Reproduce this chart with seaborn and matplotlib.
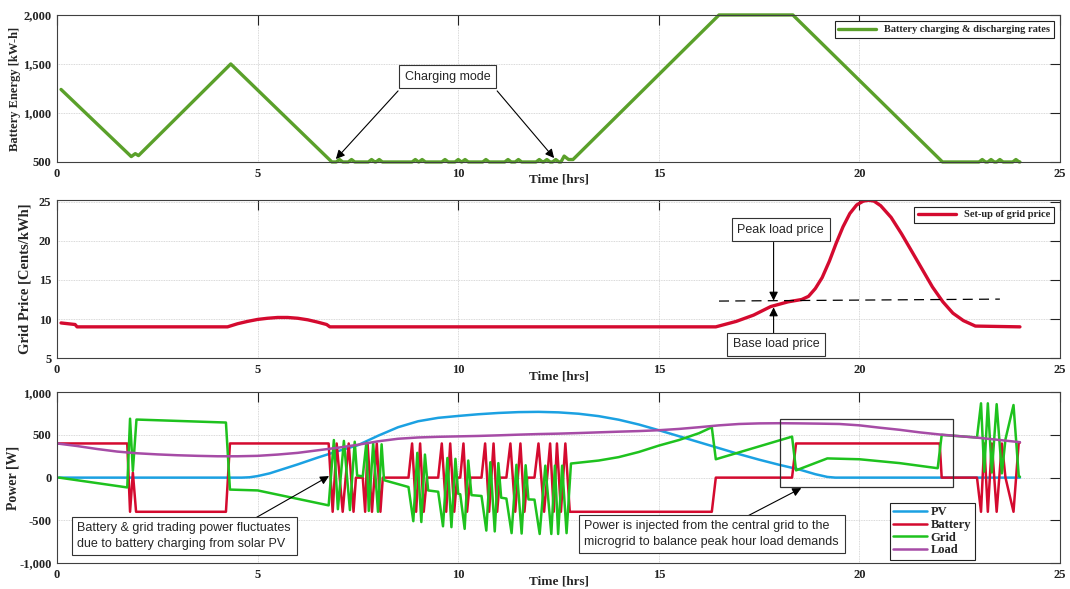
import matplotlib
matplotlib.use("Agg")
import matplotlib.pyplot as plt
import matplotlib.ticker as mticker
from matplotlib.patches import Rectangle
import seaborn as sns
import pandas as pd

# ---------------- data ----------------
# Panel 1: battery energy [kW-h]
energy_t = [0.1, 1.85, 1.95, 2.03, 4.33, 6.85,
            6.96, 7.04, 7.12, 7.26, 7.34, 7.42, 7.76, 7.84, 7.92, 7.95, 8.03, 8.11,
            8.85, 8.93, 9.01, 9.02, 9.10, 9.18, 9.59, 9.67, 9.75, 9.92, 10.0, 10.08,
            10.09, 10.17, 10.25, 10.61, 10.69, 10.77, 11.16, 11.24, 11.32, 11.42, 11.5,
            11.58, 11.94, 12.02, 12.10, 12.13, 12.21, 12.29, 12.35, 12.43, 12.51,
            12.56, 12.64, 12.75, 12.86, 16.5, 18.34, 22.07,
            22.98, 23.06, 23.14, 23.20, 23.28, 23.36, 23.42, 23.5, 23.58, 23.82, 23.9,
            23.98, 24.0]
energy_v = [1240, 555, 585, 565, 1500, 500,
            500, 525, 500, 500, 525, 500, 500, 525, 500, 500, 525, 500,
            500, 525, 500, 500, 525, 500, 500, 525, 500, 500, 525, 500,
            500, 525, 500, 500, 525, 500, 500, 525, 500, 500, 525,
            500, 500, 525, 500, 500, 525, 500, 500, 525, 500,
            500, 560, 525, 525, 2000, 2000, 500,
            500, 525, 500, 500, 525, 500, 500, 525, 500, 500, 525,
            500, 500]

# Panel 2: grid price [Cents/kWh]
price_t = [0.1, 0.45, 0.5, 4.25, 4.5, 4.75, 5.0, 5.25, 5.5, 5.75, 6.0, 6.25,
           6.5, 6.72, 6.8, 16.42, 16.93, 17.36, 17.79, 18.22, 18.56, 18.73, 18.9,
           19.07, 19.25, 19.42, 19.59, 19.76, 19.93, 20.1, 20.23, 20.36, 20.53,
           20.79, 21.05, 21.3, 21.56, 21.82, 22.08, 22.33, 22.59, 22.89, 24.0]
price_v = [9.5, 9.3, 9.0, 9.0, 9.4, 9.7, 9.95, 10.1, 10.2, 10.2, 10.1, 9.9,
           9.6, 9.3, 9.0, 9.0, 9.7, 10.5, 11.6, 12.2, 12.5, 12.9, 13.9,
           15.3, 17.4, 19.7, 21.8, 23.5, 24.6, 25.1, 25.2, 25.1, 24.5,
           23.0, 20.9, 18.7, 16.4, 14.1, 12.2, 10.75, 9.8, 9.1, 9.0]
base_line_t = [16.5, 23.5]
base_line_v = [12.3, 12.55]

# Panel 3: power [W]
pv_t = [0, 4.6, 4.8, 5.0, 5.3, 5.6, 6.0, 6.5, 7.0, 7.5, 8.0, 8.5, 9.0, 9.5,
        10.0, 10.5, 11.0, 11.5, 12.0, 12.5, 13.0, 13.5, 14.0, 14.5, 15.0,
        15.5, 16.0, 16.5, 17.0, 17.5, 18.0, 18.5, 18.9, 19.2, 19.4, 24.0]
pv_v = [0, 0, 4, 18, 50, 95, 155, 235, 310, 380, 490, 590, 660, 700,
        722, 742, 757, 767, 770, 764, 748, 720, 678, 622, 555,
        485, 415, 345, 275, 210, 150, 95, 40, 8, 0, 0]

load_t = [0, 0.5, 1.0, 1.5, 2.0, 2.5, 3.0, 3.5, 4.0, 4.5, 5.0, 5.5, 6.0, 6.5,
          7.0, 7.5, 8.0, 8.5, 9.0, 9.5, 10.0, 10.5, 11.0, 11.5, 12.0, 12.5,
          13.0, 13.5, 14.0, 14.5, 15.0, 15.5, 16.0, 16.5, 17.0, 17.5, 18.0,
          18.5, 19.0, 19.5, 20.0, 20.5, 21.0, 21.5, 22.0, 22.5, 23.0, 23.5, 24.0]
load_v = [400, 370, 335, 305, 285, 272, 262, 255, 250, 250, 255, 270, 290, 320,
          350, 385, 425, 455, 470, 478, 483, 488, 495, 503, 510, 515,
          522, 530, 538, 545, 555, 570, 590, 612, 628, 635, 637,
          635, 632, 628, 612, 585, 560, 530, 505, 485, 465, 440, 415]

battery_t = [0.0, 1.75, 1.82, 1.89, 1.97, 4.21, 4.31, 6.77,
             6.87, 6.97, 7.12, 7.27, 7.39, 7.45, 7.62, 7.68, 7.74, 7.85, 7.97, 8.06,
             8.12, 8.76, 8.85, 8.95, 9.05, 9.14, 9.22, 9.50, 9.59, 9.70, 9.80, 9.90,
             9.97, 10.05, 10.13, 10.22, 10.30, 10.58, 10.67, 10.77, 10.88, 10.97,
             11.04, 11.20, 11.30, 11.42, 11.55, 11.65, 11.72, 11.90, 12.00, 12.14,
             12.29, 12.38, 12.46, 12.56, 12.67, 12.78, 16.32, 16.42,
             18.32, 18.42, 22.00, 22.05, 22.93, 23.03, 23.11, 23.20, 23.30, 23.42,
             23.55, 23.64, 23.84, 23.97, 24.0]
battery_v = [400, 400, -400, 60, -400, -400, 400, 400,
             -400, 400, -400, 400, -400, 0, 0, -400, 400, -400, 400, -400,
             0, 0, 400, -400, 400, -400, 0, 0, 400, -400, 400, -400,
             0, 0, 400, -400, 0, 0, 400, -400, 400, -400,
             0, 0, 400, -400, 400, -400, 0, 0, 400, -400,
             400, -400, 400, -400, 400, -400, -400, 0,
             0, 400, 400, 0, 0, -400, 400, -400, 400, -400,
             400, 0, -400, 410, 410]

grid_t = [0.05, 1.75, 1.82, 1.89, 1.98, 4.21, 4.31, 5.0, 6.77,
          6.90, 7.00, 7.15, 7.30, 7.42, 7.48, 7.62, 7.71, 7.77, 7.88, 8.00, 8.09,
          8.15, 8.76, 8.88, 8.98, 9.08, 9.17, 9.25, 9.50, 9.62, 9.73, 9.83, 9.93,
          10.00, 10.05, 10.16, 10.25, 10.33, 10.58, 10.70, 10.80, 10.91, 11.00,
          11.07, 11.20, 11.33, 11.45, 11.58, 11.68, 11.75, 11.90, 12.03, 12.17,
          12.32, 12.41, 12.49, 12.59, 12.70, 12.81, 13.5, 14.0,
          14.5, 15.0, 15.5, 16.0, 16.32, 16.42, 18.32, 18.42, 19.2, 20.0, 21.0,
          21.95, 22.05, 22.93, 23.03, 23.11, 23.20, 23.30, 23.42, 23.55, 23.64,
          23.84, 23.97, 24.0]
grid_v = [0, -115, 690, 80, 680, 645, -140, -150, -325,
          440, -370, 430, -380, 420, 25, 15, 410, -390, 400, -400, 390,
          -30, -110, -510, 290, -520, 270, -150, -165, -570, 230, -580, 220,
          -190, -195, -600, 200, -205, -215, -620, 180, -630, 170,
          -235, -245, -650, 150, -655, 145, -255, -258, -660, 140,
          -660, 140, -660, 140, -650, 165, 200, 240,
          300, 375, 440, 520, 590, 215, 480, 85, 225, 215, 170,
          110, 500, 470, 870, 70, 870, 60, 860, 50, 450,
          850, 20, 10]

# labels
x_ticks = [0, 5, 10, 15, 20, 25]
energy_ticks = [500, 1000, 1500, 2000]
price_ticks = [5, 10, 15, 20, 25]
power_ticks = [-1000, -500, 0, 500, 1000]

# ---------------- style ----------------
sns.set_style("white")
plt.rcParams['font.family'] = ['Liberation Serif', 'DejaVu Serif']
plt.rcParams['font.weight'] = 'bold'
plt.rcParams['axes.labelweight'] = 'bold'

GREEN_E = '#5aa02a'
RED = '#d40a2f'
BLUE = '#1ba1e2'
GREEN = '#1ec21e'
PURPLE = '#a64ca6'
SANS = ['Liberation Sans', 'DejaVu Sans']

fig = plt.figure(figsize=(10.7, 5.89), dpi=100)
L, W = 0.0533, 0.9374
ax1 = fig.add_axes([L, 0.725, W, 0.2496])
ax2 = fig.add_axes([L, 0.392, W, 0.268])
ax3 = fig.add_axes([L, 0.0441, W, 0.290])

comma = mticker.FuncFormatter(lambda v, p: f"{int(round(v)):,}")


def style_axis(ax, yticks, ylim, ylabel, ysize, ylab_x, fmt=None):
    ax.set_xlim(0, 25)
    ax.set_ylim(*ylim)
    ax.set_xticks(x_ticks)
    ax.set_yticks(yticks)
    if fmt is not None:
        ax.yaxis.set_major_formatter(fmt)
    ax.tick_params(direction='in', length=7, width=0.8, top=True, right=True,
                   labelsize=9, pad=4, colors='#222222')
    for lab in ax.get_xticklabels() + ax.get_yticklabels():
        lab.set_fontweight('bold')
    ax.grid(True, color='#cccccc', linestyle=(0, (1, 1)), linewidth=0.6)
    ax.set_axisbelow(True)
    for s in ax.spines.values():
        s.set_color('#404040')
        s.set_linewidth(0.8)
    ax.set_xlabel('Time [hrs]', fontsize=9.5, fontweight='bold', labelpad=-4)
    ax.set_ylabel(ylabel, fontsize=ysize, fontweight='bold')
    ax.yaxis.set_label_coords(ylab_x, 0.5)


box = dict(boxstyle='square,pad=0.45', fc='white', ec='#333333', lw=0.8)
arrow = dict(arrowstyle='-|>', color='black', lw=0.8, mutation_scale=13,
             shrinkA=0, shrinkB=0)

# ---------- panel 1 ----------
df_e = pd.DataFrame({'t': energy_t, 'v': energy_v})
sns.lineplot(data=df_e, x='t', y='v', ax=ax1, color=GREEN_E, linewidth=2.4,
             estimator=None, sort=False, label='Battery charging & discharging rates')
ax1.lines[-1].set_clip_on(False)
style_axis(ax1, energy_ticks, (500, 2000), 'Battery Energy [kW-h]', 9, -0.036, comma)
ax1.legend(loc='upper right', prop={'family': 'Liberation Serif', 'weight': 'bold', 'size': 7.5},
           frameon=True, fancybox=False, edgecolor='#222222', framealpha=1,
           handlelength=3.6, borderpad=0.35, borderaxespad=0.6)
ax1.legend_.get_frame().set_linewidth(0.8)
ax1.text(9.74, 1370, 'Charging mode', fontsize=9, family=SANS, fontweight='normal',
         ha='center', va='center', bbox=box, zorder=6)
ax1.annotate('', xy=(6.95, 530), xytext=(8.5, 1225), arrowprops=arrow, zorder=5)
ax1.annotate('', xy=(12.39, 540), xytext=(10.97, 1225), arrowprops=arrow, zorder=5)

# ---------- panel 2 ----------
df_p = pd.DataFrame({'t': price_t, 'v': price_v})
sns.lineplot(data=df_p, x='t', y='v', ax=ax2, color=RED, linewidth=2.4,
             estimator=None, sort=False, label='Set-up of grid price')
sns.lineplot(x=base_line_t, y=base_line_v, ax=ax2, color='black', linewidth=0.9,
             estimator=None, sort=False, legend=False)
ax2.lines[-1].set_dashes([8, 5])
style_axis(ax2, price_ticks, (5, 25.2), 'Grid Price [Cents/kWh]', 10.5, -0.025)
ax2.legend(loc='upper right', prop={'family': 'Liberation Serif', 'weight': 'bold', 'size': 7.5},
           frameon=True, fancybox=False, edgecolor='#222222', framealpha=1,
           handlelength=3.6, borderpad=0.35, borderaxespad=0.6)
ax2.legend_.get_frame().set_linewidth(0.8)
ax2.text(18.04, 21.45, 'Peak load price', fontsize=9, family=SANS, fontweight='normal',
         ha='center', va='center', bbox=box, zorder=6)
ax2.text(17.93, 6.75, 'Base load price', fontsize=9, family=SANS, fontweight='normal',
         ha='center', va='center', bbox=box, zorder=6)
ax2.annotate('', xy=(17.86, 12.35), xytext=(17.86, 19.8), arrowprops=arrow, zorder=5)
ax2.annotate('', xy=(17.86, 11.5), xytext=(17.86, 7.8), arrowprops=arrow, zorder=5)

# ---------- panel 3 ----------
for tt, vv, col, lab in [(pv_t, pv_v, BLUE, 'PV'),
                         (battery_t, battery_v, RED, 'Battery'),
                         (grid_t, grid_v, GREEN, 'Grid'),
                         (load_t, load_v, PURPLE, 'Load')]:
    sns.lineplot(x=tt, y=vv, ax=ax3, color=col, linewidth=1.8,
                 estimator=None, sort=False, label=lab)
style_axis(ax3, power_ticks, (-1000, 1000), 'Power [W]', 10, -0.037, comma)
ax3.legend(loc='lower left', bbox_to_anchor=(0.830, 0.018),
           prop={'family': 'Liberation Serif', 'weight': 'bold', 'size': 9},
           frameon=True, fancybox=False, edgecolor='#222222', framealpha=1,
           handlelength=2.7, borderpad=0.3, labelspacing=0.05, handletextpad=0.3,
           borderaxespad=0)
ax3.legend_.get_frame().set_linewidth(0.8)
ax3.add_patch(Rectangle((18.03, -115), 22.34 - 18.03, 690 + 115, fill=False,
                        ec='#303030', lw=0.9, zorder=4))
ax3.text(3.17, -684, 'Battery & grid trading power fluctuates\ndue to battery charging from solar PV',
         fontsize=9, family=SANS, fontweight='normal', ha='center', va='center',
         ma='left', bbox=box, zorder=6, linespacing=1.35)
ax3.text(16.32, -661, 'Power is injected from the central grid to the\nmicrogrid to balance peak hour load demands',
         fontsize=9, family=SANS, fontweight='normal', ha='center', va='center',
         ma='left', bbox=box, zorder=6, linespacing=1.35)
ax3.annotate('', xy=(6.78, 18), xytext=(4.81, -509), arrowprops=arrow, zorder=5)
ax3.annotate('', xy=(18.55, -123), xytext=(17.16, -462), arrowprops=arrow, zorder=5)

fig.savefig('out.png', dpi=100, facecolor='white')
